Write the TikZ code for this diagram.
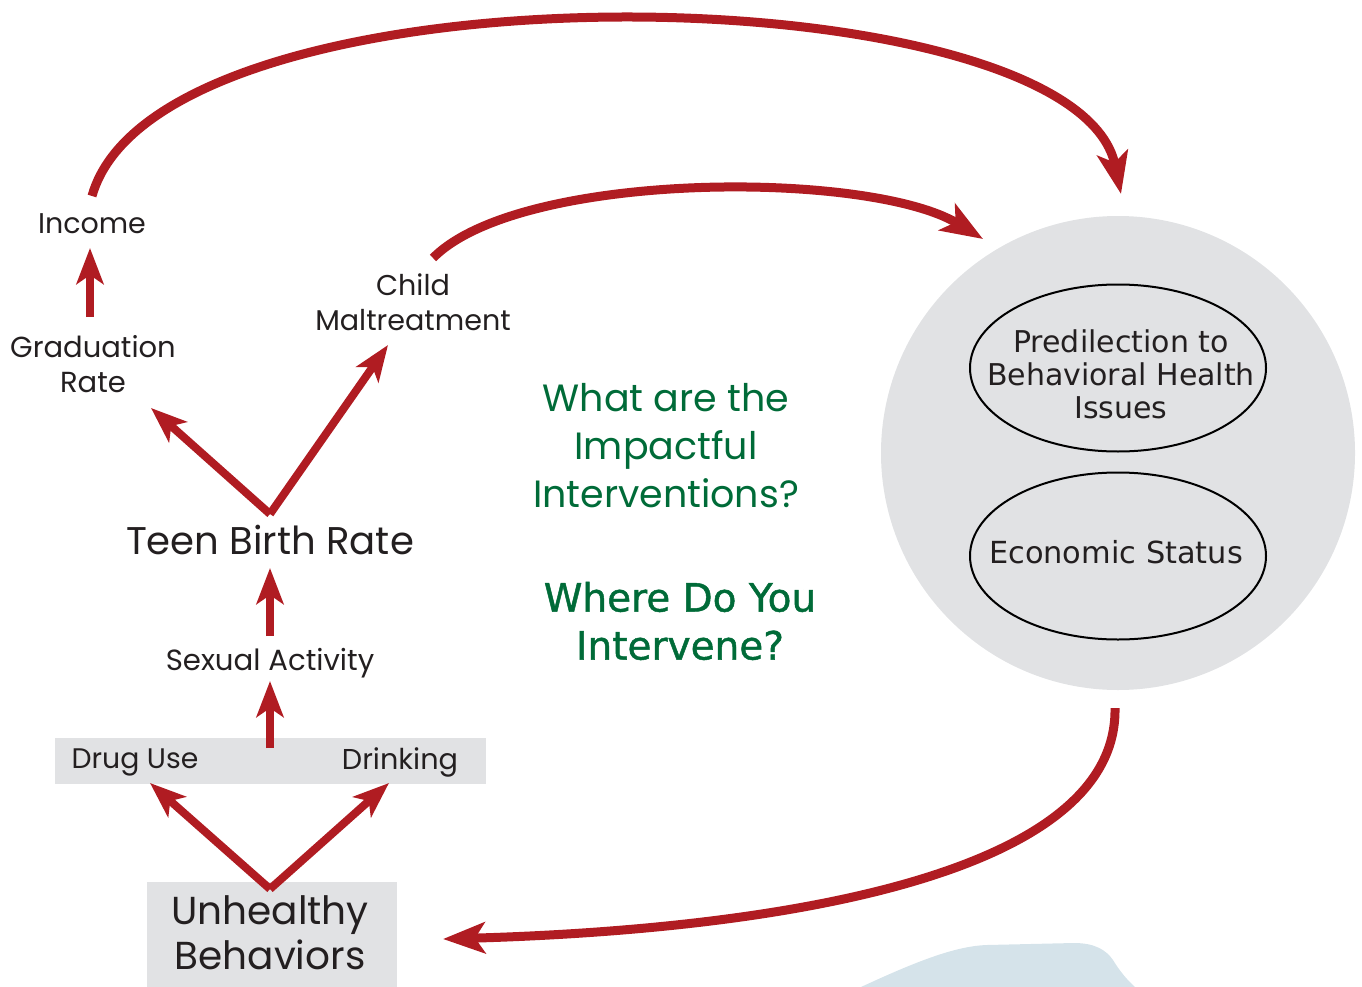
\documentclass[tikz,border=0pt]{standalone}
\usepackage{fontspec}
\setmainfont{Poppins}
\newfontfamily\vfont{DejaVu Sans}
\newfontfamily\vfontmed[FakeBold=1.2]{DejaVu Sans}
\usetikzlibrary{arrows.meta,shapes.geometric}
\definecolor{redA}{HTML}{B01C22}
\definecolor{greyC}{HTML}{E1E2E4}
\definecolor{greenT}{HTML}{006B38}
\definecolor{textD}{HTML}{231F20}
\definecolor{blueS}{HTML}{D5E3EA}
\tikzset{
  conn/.style={draw=redA,line width=8pt,-{Stealth[length=36pt,width=27pt,inset=9pt]}},
  arc/.style={draw=redA,line width=9pt,-{Stealth[length=42pt,width=31pt,inset=10pt]}},
  lbl/.style={text=textD,align=center,inner sep=0pt},
  gq/.style={text=greenT,align=center,inner sep=0pt},
  ovalbox/.style={draw=black,line width=2pt,ellipse,minimum width=296pt,minimum height=167pt,inner sep=0pt},
  greybox/.style={fill=greyC,draw=none}
}
\begin{document}
\begin{tikzpicture}[x=1pt,y=-1pt]
\useasboundingbox (0,0) rectangle (1362,987);
% background shapes
\fill[blueS] (861,987) .. controls (915,962) and (955,946) .. (987,945) -- (1074,943) .. controls (1095,943) and (1106,950) .. (1113,960) .. controls (1119,970) and (1127,980) .. (1135,987) -- cycle;
\node[circle,fill=greyC,minimum size=474pt,inner sep=0pt] (world) at (1118,453) {};
\fill[greyC] (55,738) rectangle (486,784);
\fill[greyC] (147,882) rectangle (397,987);
% ellipses
\node[ovalbox] (pred) at (1118,368) {};
\node[ovalbox] (econ) at (1118,556) {};
\node[text=textD,align=center,inner sep=0pt,font=\vfont\fontsize{30}{33}\selectfont] (predt) at (1121,374) {Predilection to\\Behavioral Health\\Issues};
\node[text=textD,inner sep=0pt,font=\vfont\fontsize{30.4}{33}\selectfont] (econt) at (1116,552) {Economic Status};
% labels
\node[lbl,font=\fontsize{28.5}{33}\selectfont] (income) at (92,224) {Income};
\node[lbl,font=\fontsize{29}{35}\selectfont] (grad) at (93,364) {Graduation\\Rate};
\node[lbl,font=\fontsize{28.6}{35}\selectfont] (child) at (413,302) {Child\\Maltreatment};
\node[lbl,font=\fontsize{38.6}{48}\selectfont] (teen) at (270,540) {Teen Birth Rate};
\node[lbl,font=\fontsize{29.2}{32}\selectfont] (sex) at (270,663) {Sexual Activity};
\node[lbl,font=\fontsize{28.3}{33}\selectfont] (drug) at (135,762) {Drug Use};
\node[lbl,font=\fontsize{28.7}{33}\selectfont] (drink) at (400,762) {Drinking};
\node[lbl,font=\fontsize{39}{45}\selectfont] (unh) at (270,933) {Unhealthy\\Behaviors};
\node[gq,font=\fontsize{38}{48}\selectfont] (what) at (666,446) {What are the\\Impactful\\Interventions?};
\node[gq,font=\vfontmed\fontsize{39}{48}\selectfont] (where) at (680,621) {Where Do You\\Intervene?};
% coordinates for connector ends
\coordinate (incA) at (92,196);
\coordinate (topTip) at (1121,194);
\coordinate (chA) at (433,258);
\coordinate (chTip) at (983,239);
\coordinate (botA) at (1115,708);
\coordinate (botTip) at (443,939);
\coordinate (gradTop) at (90,317);
\coordinate (incBot) at (90,248);
\coordinate (tbV) at (270,514);
\coordinate (gradTip) at (151,408);
\coordinate (chBot) at (388,345);
\coordinate (tbBot) at (270,636);
\coordinate (tbTip) at (270,568);
\coordinate (saBot) at (270,748);
\coordinate (saTip) at (270,681);
\coordinate (ubV) at (270,889);
\coordinate (drugTip) at (150,783);
\coordinate (drinkTip) at (389,783);
% connectors
\draw[arc] (incA) .. controls (160,-45) and (1075,-30) .. (topTip);
\draw[arc] (chA) .. controls (520,170) and (870,170) .. (chTip);
\draw[arc] (botA) .. controls (1118,880) and (760,930) .. (botTip);
\draw[conn] (gradTop) -- (incBot);
\draw[conn] (tbV) -- (gradTip);
\draw[conn] (tbV) -- (chBot);
\draw[conn] (tbBot) -- (tbTip);
\draw[conn] (saBot) -- (saTip);
\draw[conn] (ubV) -- (drugTip);
\draw[conn] (ubV) -- (drinkTip);
\end{tikzpicture}
\end{document}
